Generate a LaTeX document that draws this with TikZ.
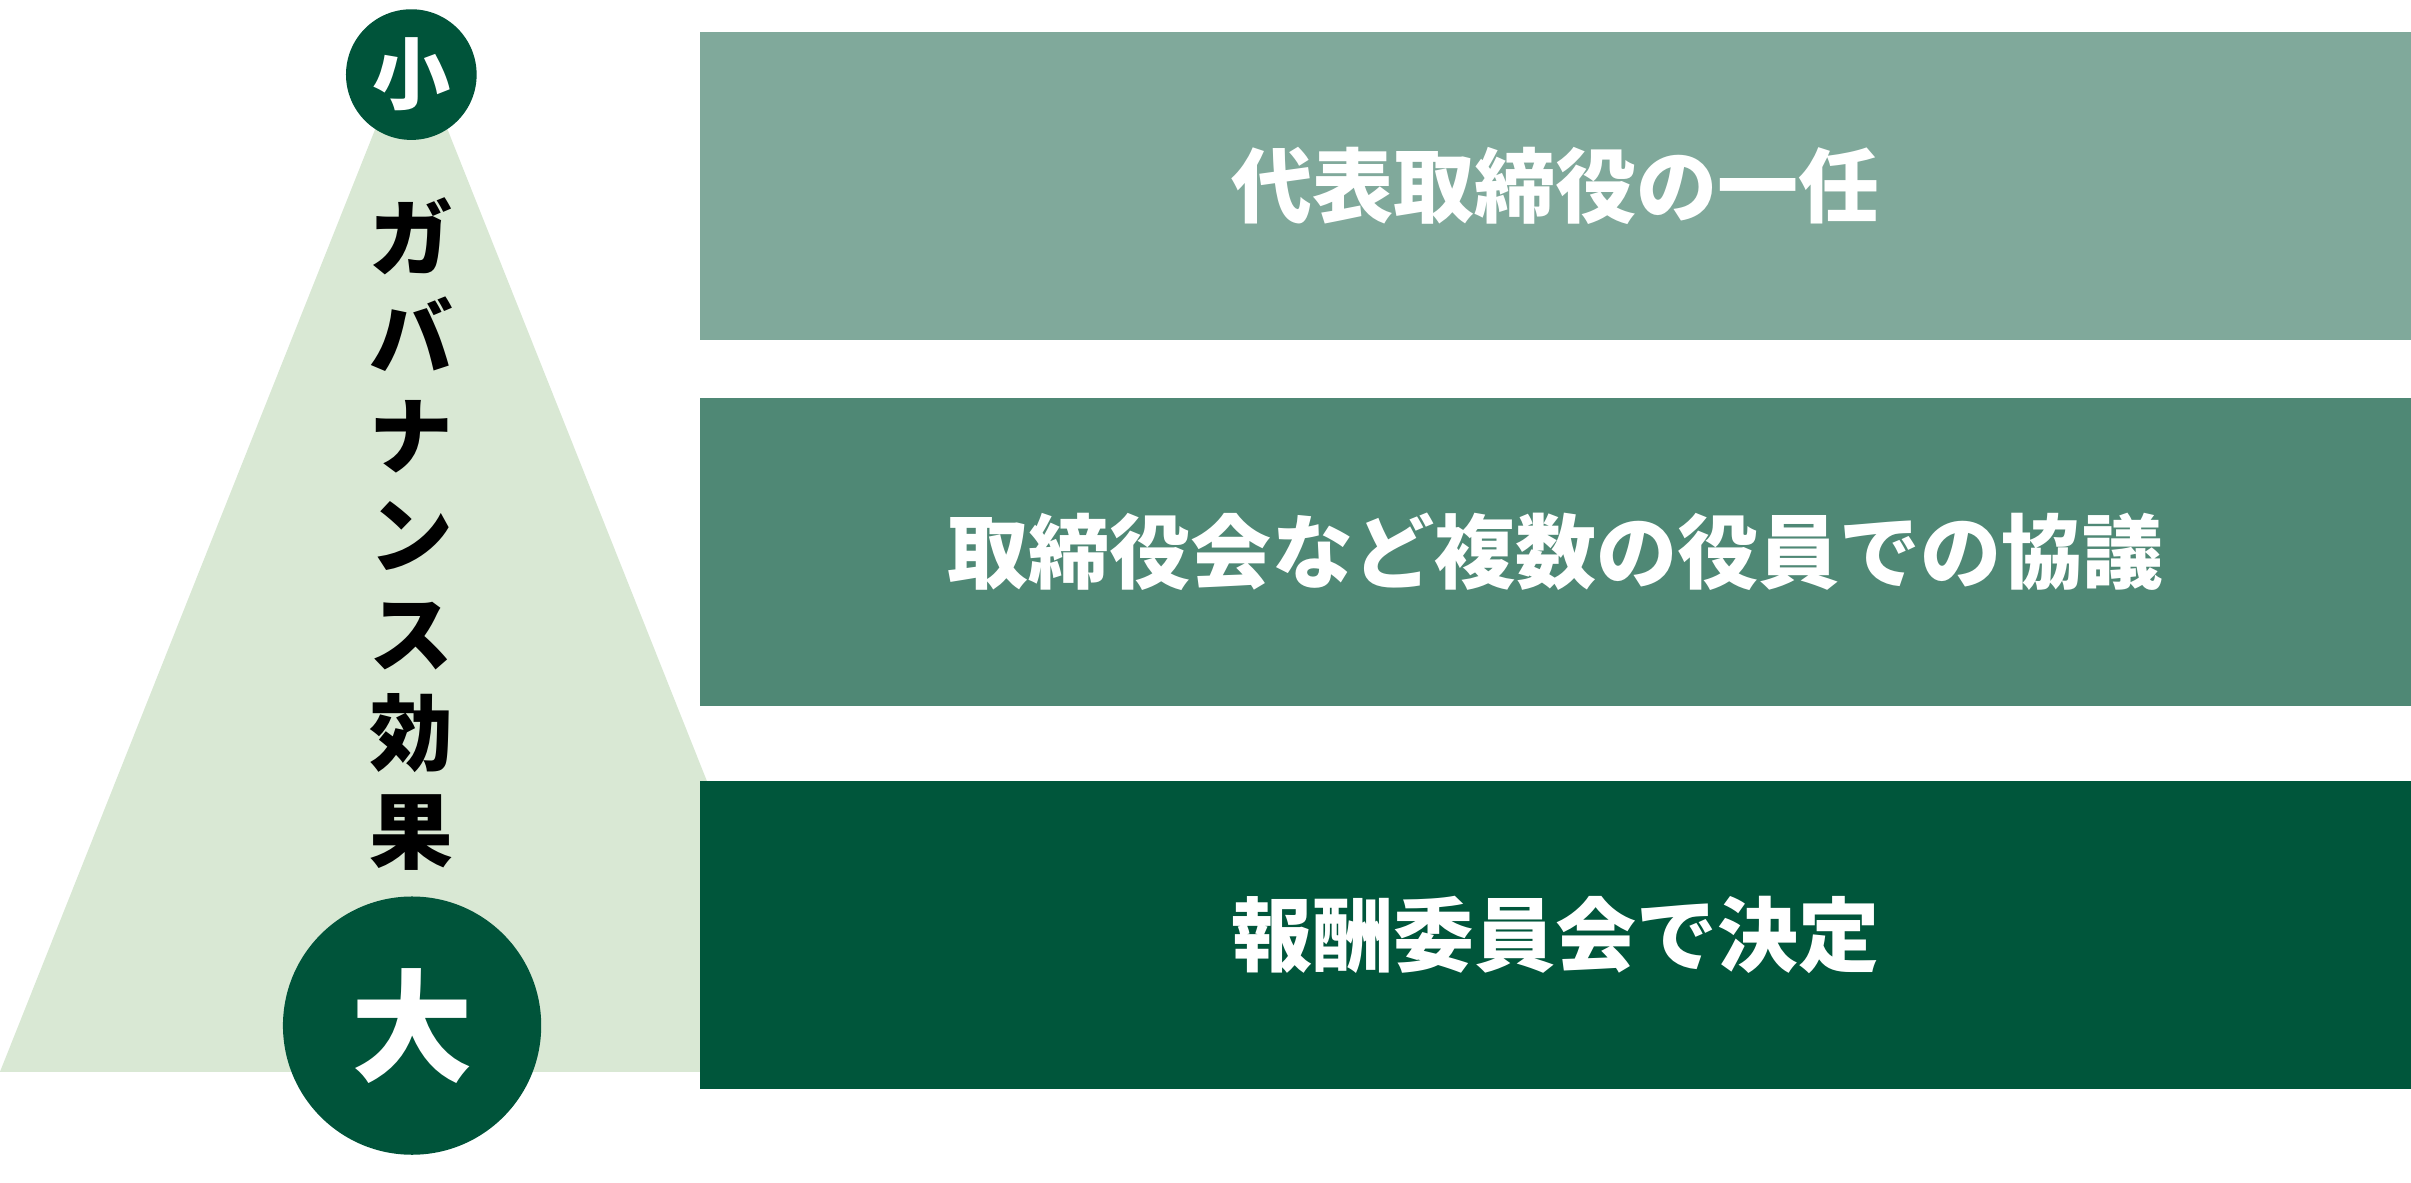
\documentclass[tikz,border=0pt]{standalone}
\usepackage{fontspec}
\setmainfont{Noto Sans CJK JP}
\usetikzlibrary{positioning}
\definecolor{paleGreen}{HTML}{D9E8D4}
\definecolor{barLight}{HTML}{80A99B}
\definecolor{barMid}{HTML}{4F8875}
\definecolor{barDark}{HTML}{00563B}
\definecolor{badgeGreen}{HTML}{00543A}

\begin{document}
\begin{tikzpicture}[x=0.02cm, y=-0.02cm,
    bar/.style={rectangle, anchor=west, minimum width=22.26cm, minimum height=4cm, inner sep=0pt, text=white, font=\bfseries\fontsize{30}{36}\selectfont},
    badge/.style={circle, fill=badgeGreen, inner sep=0pt, text=white, font=\bfseries}]
    \useasboundingbox (0,0) rectangle (1568,769);

    % Triangle
    \coordinate (top) at (267.5,25);
    \coordinate (left) at (0,697);
    \coordinate (right) at (535,697);
    \fill[paleGreen] (top) -- (left) -- (right) -- cycle;

    % Bars
    \node[bar, fill=barLight] (one) at (455,121) {代表取締役の一任};
    \node[bar, fill=barMid] (many) at (455,359) {取締役会など複数の役員での協議};
    \node[bar, fill=barDark] (committee) at (455,608) {報酬委員会で決定};

    % Scale
    \node[badge, minimum size=1.7cm, font=\bfseries\fontsize{29}{32}\selectfont] (small) at (267.5,48.5) {小};
    \node[badge, minimum size=3.36cm, font=\bfseries\fontsize{45}{50}\selectfont] (large) at (268,667) {大};
    \node[align=center, inner sep=0pt, font=\bfseries\fontsize{31}{36.6}\selectfont] (effect) at (267.5,347.5) {ガ\\バ\\ナ\\ン\\ス\\効\\果};
\end{tikzpicture}
\end{document}
